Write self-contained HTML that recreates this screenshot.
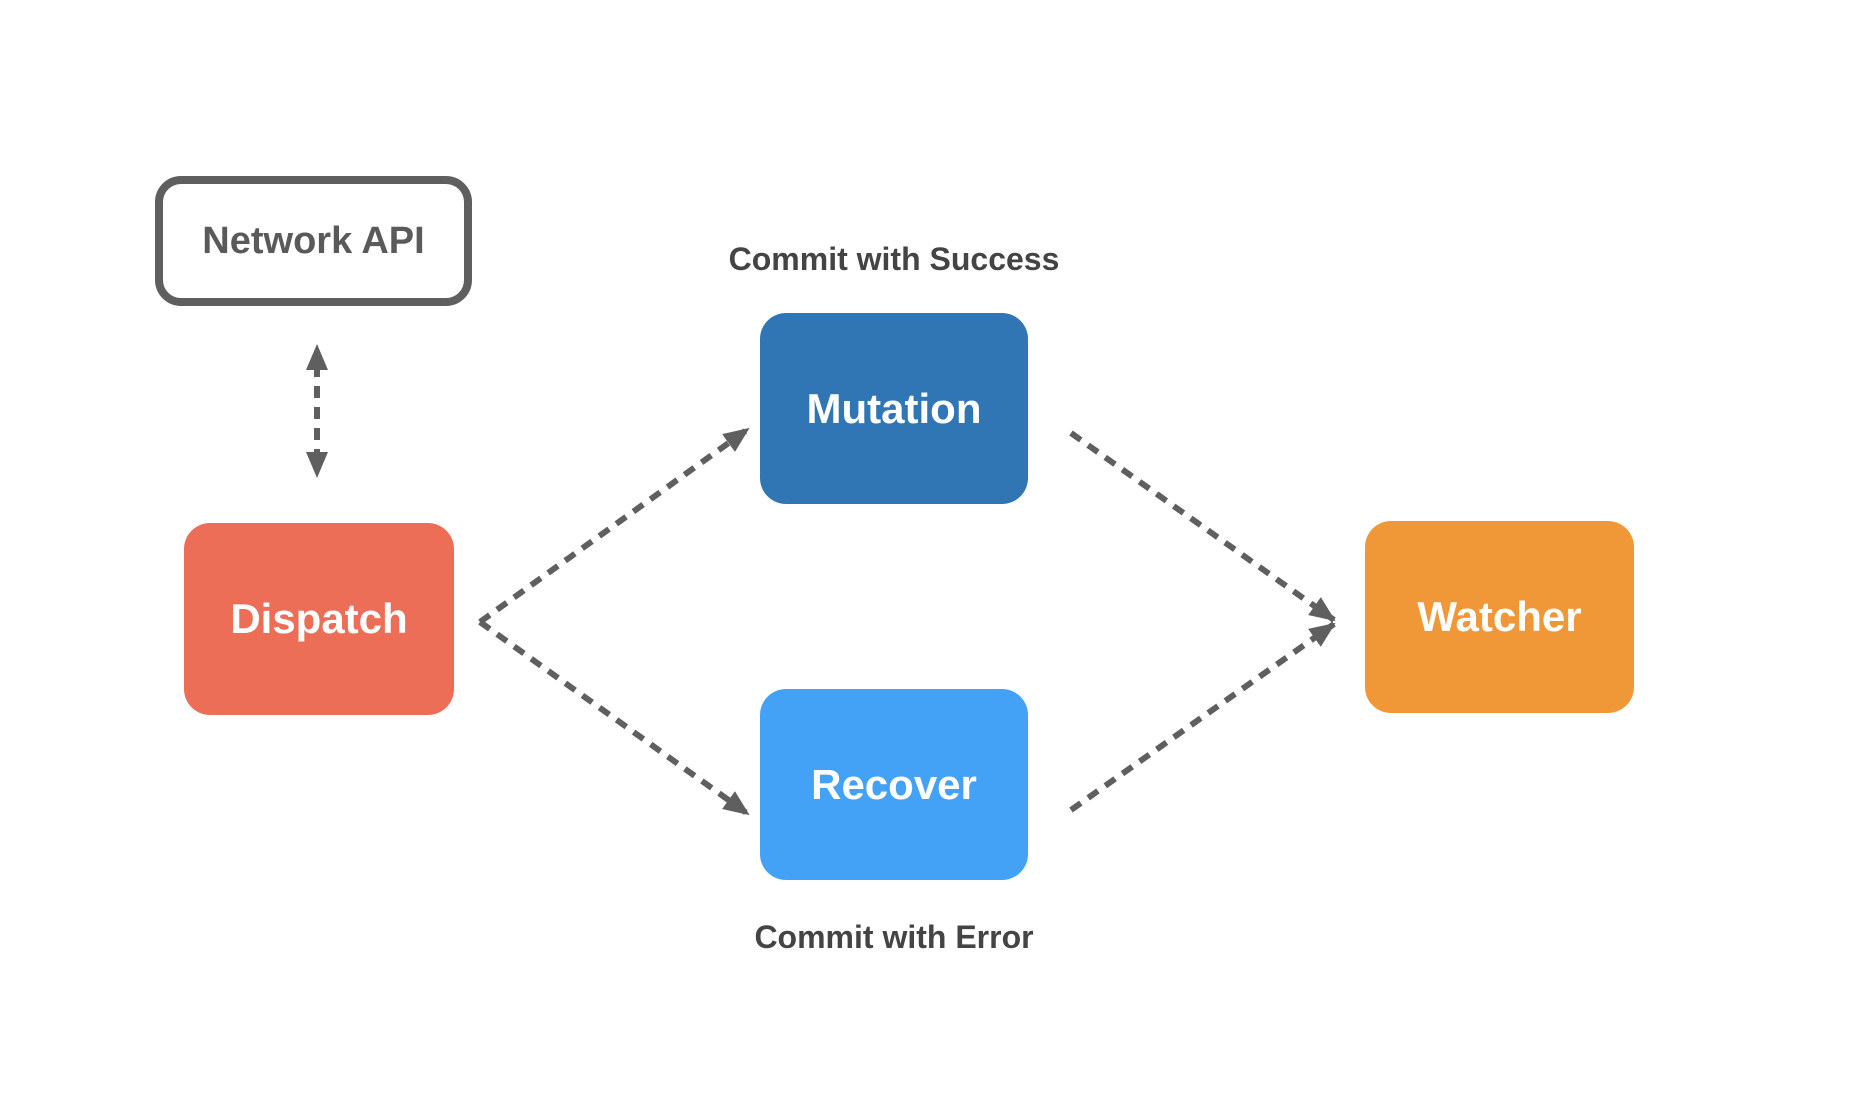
<!DOCTYPE html>
<html><head><meta charset="utf-8"><style>
html,body{margin:0;padding:0;background:#fff;}
body{width:1860px;height:1114px;position:relative;overflow:hidden;font-family:"Liberation Sans",sans-serif;}
.b{position:absolute;border-radius:26px;color:#fff;font-weight:bold;font-size:42px;display:flex;align-items:center;justify-content:center;}
.l{position:absolute;color:#444;font-size:32px;font-weight:bold;width:500px;text-align:center;}
</style></head><body>
<div class="b" style="left:155px;top:176px;width:301px;height:114px;border:8px solid #5f5f5f;color:#5a5a5a;font-size:38px;">Network API</div>
<div class="b" style="left:760px;top:313px;width:268px;height:191px;background:#3076b4;">Mutation</div>
<div class="b" style="left:184px;top:523px;width:270px;height:192px;background:#ed6e57;">Dispatch</div>
<div class="b" style="left:760px;top:689px;width:268px;height:191px;background:#44a2f6;">Recover</div>
<div class="b" style="left:1365px;top:521px;width:269px;height:192px;background:#f09838;">Watcher</div>
<div class="l" style="left:644px;top:241px;">Commit with Success</div>
<div class="l" style="left:644px;top:919px;">Commit with Error</div>
<svg width="1860" height="1114" style="position:absolute;left:0;top:0">
<defs>
<marker id="m" markerWidth="26" markerHeight="22" refX="24" refY="11" orient="auto" markerUnits="userSpaceOnUse"><path d="M0,0 L26,11 L0,22z" fill="#5f5f5f"/></marker></defs>
<g stroke="#5f5f5f" stroke-width="6" stroke-dasharray="12 9" fill="none">
<line x1="317" y1="365" x2="317" y2="456"/>
<line x1="480" y1="622" x2="748" y2="429" marker-end="url(#m)"/>
<line x1="480" y1="622" x2="748" y2="814" marker-end="url(#m)"/>
<line x1="1071" y1="433" x2="1334" y2="620" marker-end="url(#m)"/>
<line x1="1071" y1="810" x2="1334" y2="624" marker-end="url(#m)"/>
</g>
<path d="M317,344 L306,370 L328,370z M317,478 L306,452 L328,452z" fill="#5f5f5f"/>
</svg>
</body></html>
